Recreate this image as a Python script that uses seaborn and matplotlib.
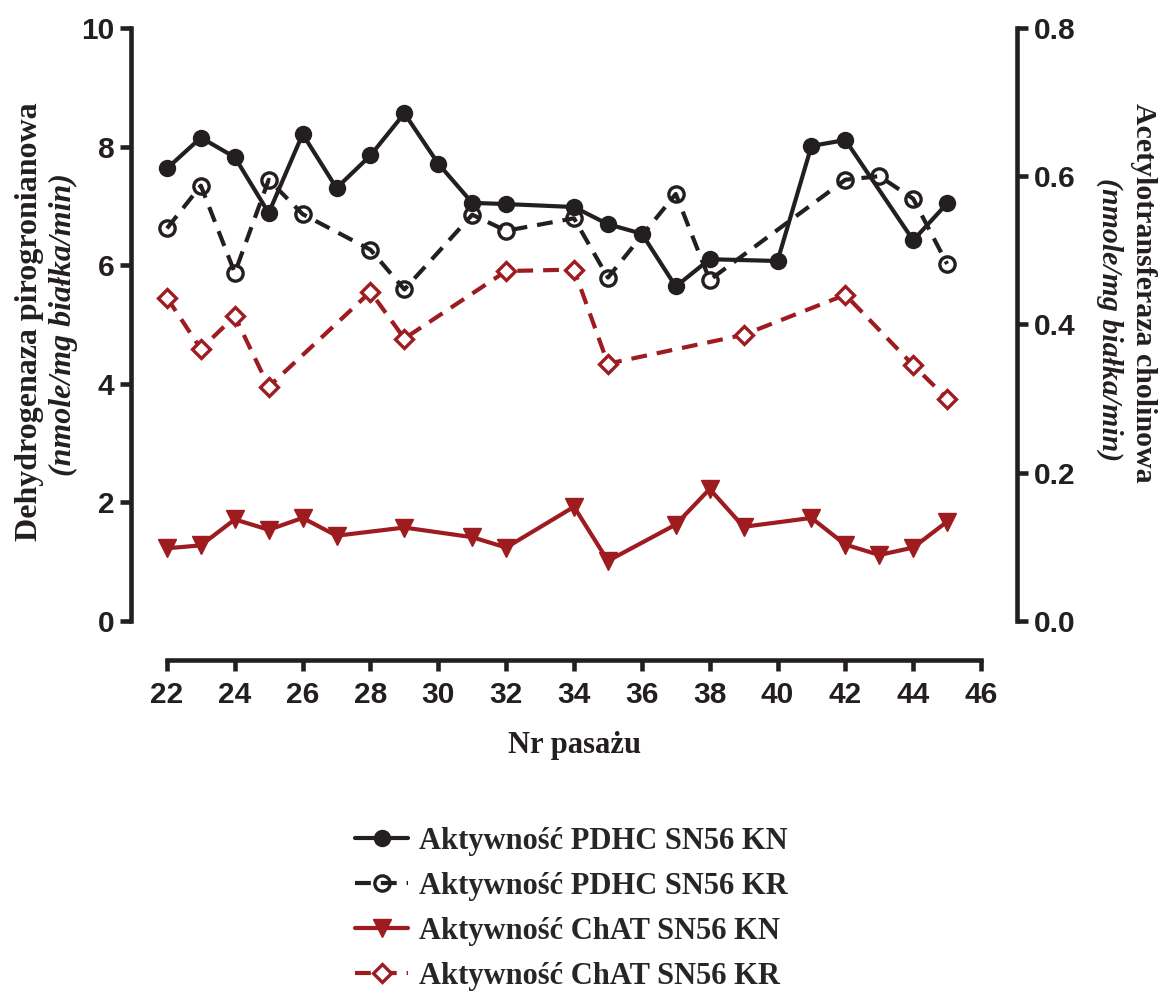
"""Aktywnosc PDHC i ChAT w kolejnych pasazach komorek SN56."""

import numpy as np
import matplotlib
matplotlib.use("Agg")
import matplotlib.pyplot as plt
import seaborn as sns
from matplotlib import font_manager

# --- dane ---
pdhc_kn_x = [22, 23, 24, 25, 26, 27, 28, 29, 30, 31, 32, 34, 35, 36, 37, 38, 40, 41, 42, 44, 45]
pdhc_kn_y = [7.63, 8.15, 7.82, 6.88, 8.21, 7.30, 7.85, 8.56, 7.71, 7.05, 7.03, 6.98, 6.69, 6.53, 5.64, 6.10, 6.07, 8.01, 8.11, 6.42, 7.04]

pdhc_kr_x = [22, 23, 24, 25, 26, 28, 29, 31, 32, 34, 35, 37, 38, 42, 43, 44, 45]
pdhc_kr_y = [6.62, 7.34, 5.87, 7.44, 6.86, 6.26, 5.59, 6.85, 6.58, 6.79, 5.79, 7.20, 5.75, 7.44, 7.50, 7.12, 6.02]

chat_kn_x = [22, 23, 24, 25, 26, 27, 29, 31, 32, 34, 35, 37, 38, 39, 41, 42, 43, 44, 45]
chat_kn_y = [0.098, 0.102, 0.137, 0.123, 0.139, 0.115, 0.126, 0.113, 0.099, 0.154, 0.081, 0.130, 0.178, 0.127, 0.139, 0.103, 0.089, 0.099, 0.134]

chat_kr_x = [22, 23, 24, 25, 28, 29, 32, 34, 35, 39, 42, 44, 45]
chat_kr_y = [0.436, 0.367, 0.411, 0.316, 0.444, 0.381, 0.472, 0.474, 0.347, 0.386, 0.440, 0.345, 0.300]

labels = ["Aktywność PDHC SN56 KN", "Aktywność PDHC SN56 KR",
          "Aktywność ChAT SN56 KN", "Aktywność ChAT SN56 KR"]
x_ticks = np.arange(22, 47, 2)
left_ticks = [0, 2, 4, 6, 8, 10]
right_ticks = [0.0, 0.2, 0.4, 0.6, 0.8]

BLACK = "#231F20"
RED = "#9E1B20"

sns.set_style("ticks")
installed = {f.name for f in font_manager.fontManager.ttflist}
TICK_FONT = "Liberation Sans Narrow" if "Liberation Sans Narrow" in installed else "Liberation Sans"
SERIF = ["Liberation Serif", "DejaVu Serif"]
plt.rcParams.update({
    "font.family": [TICK_FONT, "DejaVu Sans"],
    "font.weight": "bold",
    "axes.linewidth": 3.3,
    "xtick.major.width": 3.3, "ytick.major.width": 3.3,
    "xtick.major.size": 8, "ytick.major.size": 8,
    "xtick.major.pad": 7, "ytick.major.pad": 4,
    "xtick.labelsize": 21.5, "ytick.labelsize": 21.5,
    "xtick.color": BLACK, "ytick.color": BLACK,
    "axes.edgecolor": BLACK,
})

fig = plt.figure(figsize=(11.61, 9.94), dpi=100)
ax = fig.add_axes([0.1438, 0.3753, 0.7012, 0.5966])
ax2 = ax.twinx()

LW = 3.0
dash = (0, (3.8, 2.4))

sns.lineplot(x=pdhc_kn_x, y=pdhc_kn_y, ax=ax, color=BLACK, linewidth=LW,
             marker="o", markersize=11.5, markerfacecolor=BLACK,
             markeredgecolor=BLACK, markeredgewidth=1, clip_on=False,
             label=labels[0], zorder=4)
sns.lineplot(x=pdhc_kr_x, y=pdhc_kr_y, ax=ax, color=BLACK, linewidth=LW,
             linestyle=dash, marker="o", markersize=11, markerfacecolor="none",
             markeredgecolor=BLACK, markeredgewidth=2.4, clip_on=False,
             label=labels[1], zorder=3)
sns.lineplot(x=chat_kn_x, y=chat_kn_y, ax=ax2, color=RED, linewidth=LW,
             marker="v", markersize=12.5, markerfacecolor=RED,
             markeredgecolor=RED, markeredgewidth=1, clip_on=False,
             label=labels[2], zorder=4)
sns.lineplot(x=chat_kr_x, y=chat_kr_y, ax=ax2, color=RED, linewidth=LW,
             linestyle=dash, marker="D", markersize=9.5, markerfacecolor="white",
             markeredgecolor=RED, markeredgewidth=2.4, clip_on=False,
             label=labels[3], zorder=3)

h1, l1 = ax.get_legend_handles_labels()
h2, l2 = ax2.get_legend_handles_labels()
ax.get_legend().remove()
ax2.get_legend().remove()

ax.set_xlim(22, 46)
ax.set_ylim(0, 10)
ax2.set_ylim(0, 0.8)
ax.set_xticks(x_ticks)
ax.set_yticks(left_ticks)
ax2.set_yticks(right_ticks)
ax2.set_yticklabels([f"{t:.1f}" for t in right_ticks])

for a in (ax, ax2):
    a.spines["top"].set_visible(False)
    a.set_xlabel("")
    a.set_ylabel("")
ax.spines["right"].set_visible(False)
ax2.spines["left"].set_visible(False)
ax2.spines["bottom"].set_visible(False)
ax.spines["left"].set_position(("outward", 26))
ax.spines["bottom"].set_position(("outward", 28))
ax2.spines["right"].set_position(("outward", 26))
for t in ax.get_xticklabels() + ax.get_yticklabels() + ax2.get_yticklabels():
    t.set_fontweight("bold")

# podpisy osi (dwie linie o roznym kroju)
fig.text(575 / 1161, 1 - 745 / 994, "Nr pasażu", family=SERIF, weight="bold",
         size=22, ha="center", va="center", color=BLACK)
fig.text(30 / 1161, 1 - 322 / 994, "Dehydrogenaza pirogronianowa", family=SERIF,
         weight="bold", size=23, rotation=90, ha="center", va="center", color=BLACK)
fig.text(63 / 1161, 1 - 325 / 994, "(nmole/mg białka/min)", family=SERIF,
         weight="bold", style="italic", size=23, rotation=90, ha="center",
         va="center", color=BLACK)
fig.text(1143 / 1161, 1 - 293 / 994, "Acetylotransferaza cholinowa", family=SERIF,
         weight="bold", size=21.5, rotation=-90, ha="center", va="center", color=BLACK)
fig.text(1110 / 1161, 1 - 320 / 994, "(nmole/mg białka/min)", family=SERIF,
         weight="bold", style="italic", size=21.5, rotation=-90, ha="center",
         va="center", color=BLACK)

fig.legend(h1 + h2, l1 + l2, loc="upper left", bbox_to_anchor=(355 / 1161, 1 - 827 / 994),
           frameon=False, borderpad=0, borderaxespad=0, handlelength=1.75,
           handletextpad=0.35, labelspacing=0.52,
           prop={"family": SERIF, "weight": "bold", "size": 22})

fig.savefig("out.png", dpi=100)
